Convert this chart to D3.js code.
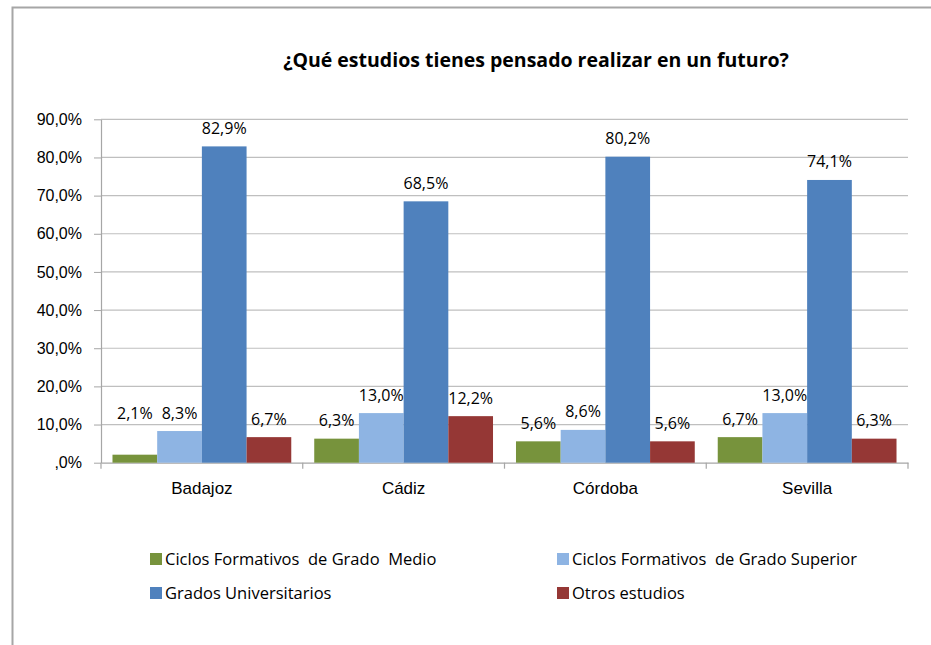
<!DOCTYPE html>
<html>
<head>
<meta charset="utf-8">
<script src="https://cdn.jsdelivr.net/npm/d3@7"></script>
<style>
  body { margin: 0; background: #fff; }
  svg { font-family: "Open Sans", "Noto Sans", sans-serif; }
</style>
</head>
<body>
<svg width="931" height="645"></svg>
<script>
var categories = ["Badajoz", "Cádiz", "Córdoba", "Sevilla"];
var seriesNames = ["Ciclos Formativos  de Grado  Medio", "Ciclos Formativos  de Grado Superior", "Grados Universitarios", "Otros estudios"];
var cfgm = [2.1, 6.3, 5.6, 6.7];
var cfgs = [8.3, 13.0, 8.6, 13.0];
var grados = [82.9, 68.5, 80.2, 74.1];
var otros = [6.7, 12.2, 5.6, 6.3];
var yTicks = [0, 10, 20, 30, 40, 50, 60, 70, 80, 90];
var colors = ["#77933c", "#8eb4e3", "#4f81bd", "#953735"];

var seriesValues = [cfgm, cfgs, grados, otros];

var svg = d3.select("svg");

// chart frame (cut off at right and bottom like the source)
svg.append("path")
  .attr("d", "M12.5,645 L12.5,7.5 L931,7.5")
  .attr("fill", "none")
  .attr("stroke", "#a6a6a6")
  .attr("stroke-width", 2);

svg.append("text")
  .attr("x", 536)
  .attr("y", 67)
  .attr("text-anchor", "middle")
  .style("font-size", "19.5px")
  .style("font-weight", "bold")
  .text("¿Qué estudios tienes pensado realizar en un futuro?");

var plotLeft = 101, plotRight = 908, plotTop = 119.3, plotBottom = 462.7;

var x0 = d3.scaleBand().domain(categories).range([plotLeft, plotRight]).paddingInner(0).paddingOuter(0);
var x1 = d3.scaleBand().domain(d3.range(4)).range([0, x0.bandwidth()]).paddingOuter(0.257).paddingInner(0);
var y = d3.scaleLinear().domain([0, 90]).range([plotBottom, plotTop]);

// gridlines
svg.append("g").selectAll("line")
  .data(yTicks.slice(1))
  .enter().append("line")
  .attr("x1", plotLeft).attr("x2", plotRight)
  .attr("y1", function(d) { return y(d); })
  .attr("y2", function(d) { return y(d); })
  .attr("stroke", "#bfbfbf")
  .attr("stroke-width", 1.2);

var fmt = function(d) { return d === 0 ? ",0%" : d3.format(".1f")(d).replace(".", ",") + "%"; };

var yAxis = svg.append("g")
  .attr("transform", "translate(" + plotLeft + ",0)")
  .call(d3.axisLeft(y).tickValues(yTicks).tickSize(7).tickSizeOuter(0).tickPadding(12).tickFormat(fmt));
yAxis.select(".domain").attr("stroke", "#a6a6a6").attr("stroke-width", 1.2);
yAxis.selectAll(".tick line").attr("stroke", "#a6a6a6");
yAxis.selectAll(".tick text").style("font-size", "16px").attr("fill", "#000");

var xAxis = svg.append("g")
  .attr("transform", "translate(0," + plotBottom + ")")
  .call(d3.axisBottom(x0).tickSize(0).tickPadding(19));
xAxis.select(".domain").attr("stroke", "#a6a6a6").attr("stroke-width", 1.2);
xAxis.selectAll(".tick text").style("font-size", "17px").attr("fill", "#000");

// category separators
svg.append("g").selectAll("line")
  .data(categories.map(function(c) { return x0(c); }).concat([plotRight]))
  .enter().append("line")
  .attr("x1", function(d) { return d; }).attr("x2", function(d) { return d; })
  .attr("y1", plotBottom).attr("y2", plotBottom + 6)
  .attr("stroke", "#a6a6a6").attr("stroke-width", 1.2);

var groups = svg.append("g").selectAll("g")
  .data(categories)
  .enter().append("g")
  .attr("transform", function(d) { return "translate(" + x0(d) + ",0)"; });

function groupData(d, i) {
  return seriesValues.map(function(s, k) { return { k: k, v: s[i], next: k < 3 ? seriesValues[k + 1][i] : null }; });
}

groups.selectAll("rect")
  .data(groupData)
  .enter().append("rect")
  .attr("x", function(d) { return x1(d.k); })
  .attr("width", x1.bandwidth())
  .attr("y", function(d) { return y(d.v); })
  .attr("height", function(d) { return plotBottom - y(d.v); })
  .attr("fill", function(d) { return colors[d.k]; });

// labels of very short bars are lifted to line up with the neighbour's label
groups.selectAll("text")
  .data(groupData)
  .enter().append("text")
  .attr("x", function(d) { return x1(d.k) + x1.bandwidth() / 2; })
  .attr("y", function(d) {
    var v = (d.v < 3 && d.next !== null) ? d.next : d.v;
    return y(v) - 12.5;
  })
  .attr("text-anchor", "middle")
  .style("font-size", "16px")
  .text(function(d) { return d3.format(".1f")(d.v).replace(".", ",") + "%"; });

// legend
var legend = svg.append("g").selectAll("g")
  .data(seriesNames)
  .enter().append("g")
  .attr("transform", function(d, i) { return "translate(" + (i % 2 === 0 ? 150 : 557) + "," + (i < 2 ? 553 : 587) + ")"; });
legend.append("rect")
  .attr("width", 12).attr("height", 12)
  .attr("fill", function(d, i) { return colors[i]; });
legend.append("text")
  .attr("x", 15).attr("y", 12)
  .style("font-size", "16.5px")
  .style("white-space", "pre")
  .text(function(d) { return d; });
</script>
</body>
</html>
